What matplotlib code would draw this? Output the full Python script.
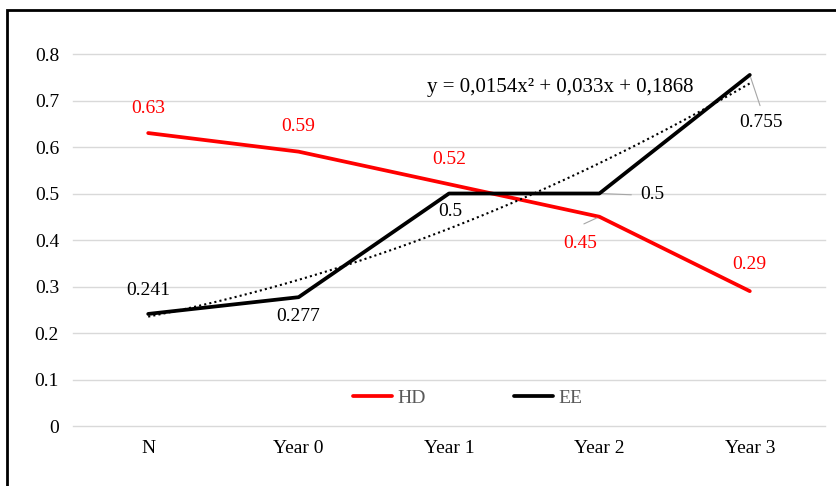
import matplotlib.pyplot as plt
import numpy as np
from matplotlib.patches import Rectangle

plt.rcParams['font.family'] = ['Liberation Serif', 'DejaVu Serif']

categories = ["N", "Year 0", "Year 1", "Year 2", "Year 3"]
hd = [0.63, 0.59, 0.52, 0.45, 0.29]
ee = [0.241, 0.277, 0.5, 0.5, 0.755]
trend_coef = [0.0154, 0.033, 0.1868]  # y = a x^2 + b x + c, x = 1..5
yticks = [0, 0.1, 0.2, 0.3, 0.4, 0.5, 0.6, 0.7, 0.8]

fig = plt.figure(figsize=(8.37, 4.86), dpi=100)
ax = fig.add_axes([73 / 837, 60 / 486, 752 / 837, 372 / 486])

x = np.arange(len(categories))
ax.plot(x, hd, color="#ff0000", lw=2.7, label="HD", solid_capstyle="round", zorder=3)
ax.plot(x, ee, color="black", lw=2.7, label="EE", solid_capstyle="round", zorder=4)

xt = np.linspace(0, len(categories) - 1, 100)
ax.plot(xt, np.polyval(trend_coef, xt + 1), color="black", lw=1.5, ls=(0, (1, 1.5)), zorder=5)

# data labels
red = "#ff0000"
fs = 14
hd_off = [(0, 18), (0, 18), (0, 18), (-14, -19), (0, 19)]
for i, (v, off) in enumerate(zip(hd, hd_off)):
    ax.annotate(str(v), (x[i], v), xytext=off, textcoords="offset points",
                ha="center", va="center", color=red, fontsize=fs)
ax.annotate("", (x[3], hd[3]), xytext=(-13, -6), textcoords="offset points",
            arrowprops=dict(arrowstyle="-", color="#a6a6a6", lw=0.8))

ee_off = [(0, 17), (0, -14), (1, -13), (38, -1), (8, -34)]
for i, (v, off) in enumerate(zip(ee, ee_off)):
    ax.annotate(f"{v:g}", (x[i], v), xytext=off, textcoords="offset points",
                ha="center", va="center", color="black", fontsize=fs)
ax.annotate("", (x[3], ee[3]), xytext=(25, -1), textcoords="offset points",
            arrowprops=dict(arrowstyle="-", color="#a6a6a6", lw=0.8))
ax.annotate("", (x[4], ee[4]), xytext=(8, -24), textcoords="offset points",
            arrowprops=dict(arrowstyle="-", color="#a6a6a6", lw=0.8))

ax.text(2.74, 0.727, "y = 0,0154x² + 0,033x + 0,1868", ha="center", va="center", fontsize=15)

ax.set_xlim(-0.5, len(categories) - 0.5)
ax.set_ylim(0, 0.8)
ax.set_xticks(x)
ax.set_xticklabels(categories, fontsize=fs)
ax.set_yticks(yticks)
ax.set_yticklabels([f"{t:g}" for t in yticks], fontsize=fs)
ax.tick_params(length=0, pad=10)
ax.tick_params(axis="y", pad=10)
for t in yticks:
    ax.axhline(t, color="#d9d9d9", lw=1, zorder=0, clip_on=False)
for s in ax.spines.values():
    s.set_visible(False)

leg = ax.legend(loc="lower center", bbox_to_anchor=(0.525, 0.005), ncol=2, frameon=False,
                fontsize=fs, handlelength=2.0, handletextpad=0.3, columnspacing=4.5,
                labelcolor="#595959")

fig.patches.append(Rectangle((7 / 837, -0.1), 1.2, 1 - 10 / 486 + 0.1, transform=fig.transFigure,
                             fill=False, edgecolor="black", lw=2))

fig.savefig("out.png", dpi=100)
